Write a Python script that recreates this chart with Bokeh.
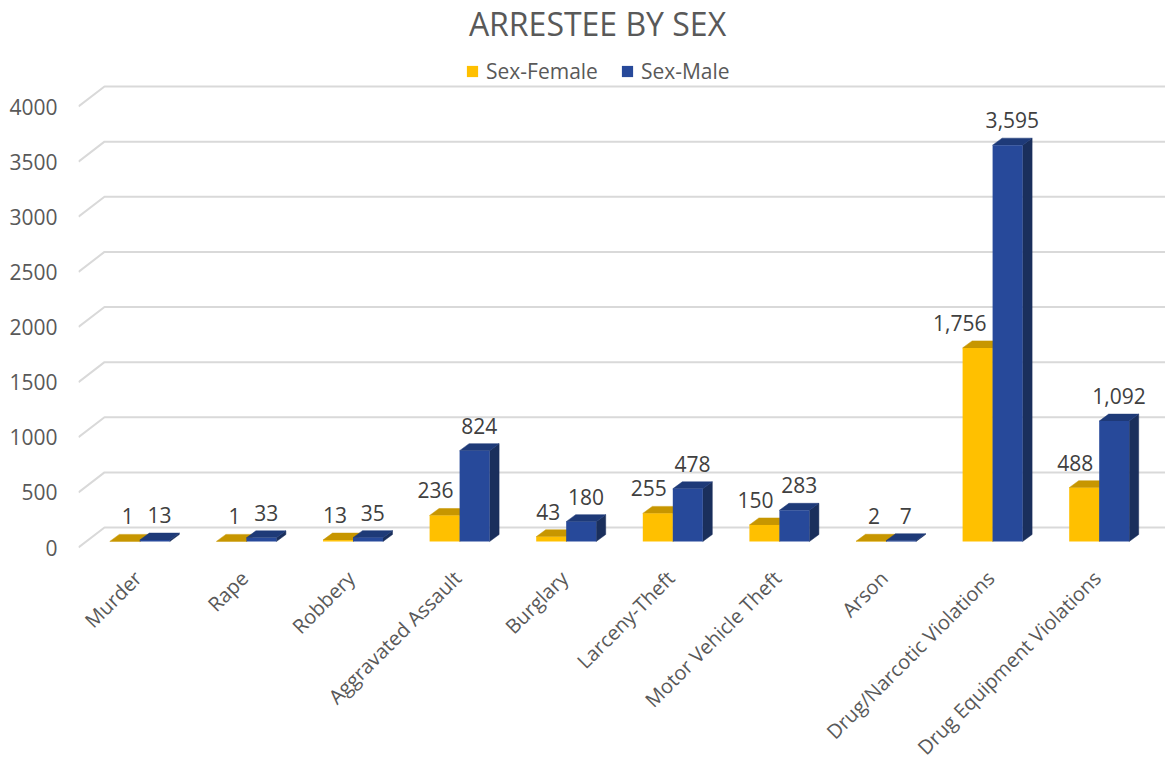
import math
import numpy as np
from bokeh.plotting import figure
from bokeh.models import ColumnDataSource, FixedTicker, Label, Legend, LegendItem, Range1d
from bokeh.core.properties import value
from bokeh.embed import file_html
from bokeh.resources import INLINE

# ---------------- data ----------------
categories = ["Murder", "Rape", "Robbery", "Aggravated Assault", "Burglary",
              "Larceny-Theft", "Motor Vehicle Theft", "Arson",
              "Drug/Narcotic Violations", "Drug Equipment Violations"]
female = [1, 1, 13, 236, 43, 255, 150, 2, 1756, 488]
male = [13, 33, 35, 824, 180, 478, 283, 7, 3595, 1092]
series_names = ["Sex-Female", "Sex-Male"]
y_ticks = [0, 500, 1000, 1500, 2000, 2500, 3000, 3500, 4000]
title_text = "ARRESTEE BY SEX"

# ---------------- layout / style ----------------
FONT = "Open Sans"
W, H = 1165, 763
LEFT = 78
PX_X = 106.6            # pixels per category
K = 441.0 / 4000.0      # pixels per unit value
ZERO_Y = 547.0          # figure px of value 0 on the front plane
x_start = -0.5
x_end = x_start + (W - LEFT) / PX_X
y_end = ZERO_Y / K
y_start = -(H - ZERO_Y) / K


def dx(px):
    return px / PX_X


def dy(px):
    return px / K


BX, BY = dx(8), dy(6)        # bar plane offset from the axis plane
BW = dx(30)                  # bar width
DX, DY = dx(9.5), dy(7)      # bar depth
WX, WY = dx(26), dy(20)      # back wall offset

YEL, YEL_TOP = "#FFC000", "#C79600"
BLU, BLU_TOP, BLU_SIDE = "#27499A", "#1E3A78", "#1A2F5C"
GRID = "#D9D9D9"
TXT = "#595959"
LBL = "#404040"

p = figure(width=W, height=H, output_backend="svg", toolbar_location=None,
           x_range=Range1d(x_start, x_end), y_range=Range1d(y_start, y_end),
           x_axis_location=None, y_axis_location="left", title=None,
           min_border_left=LEFT, min_border_right=0, min_border_top=0,
           min_border_bottom=0)
p.outline_line_color = None
p.xgrid.visible = False
p.ygrid.visible = False

# y axis (front plane)
ax = p.yaxis[0]
ax.ticker = FixedTicker(ticks=y_ticks)
ax.axis_line_color = None
ax.major_tick_line_color = None
ax.minor_tick_line_color = None
ax.major_tick_out = 0
ax.major_tick_in = 0
ax.major_label_standoff = 21
ax.major_label_text_font = FONT
ax.major_label_text_font_size = "21px"
ax.major_label_text_color = TXT

# 3D gridlines: diagonal on side wall, then along back wall
gxs = [[x_start, x_start + WX, x_end] for t in y_ticks]
gys = [[t, t + WY, t + WY] for t in y_ticks]
p.multi_line(xs=gxs, ys=gys, line_color=GRID, line_width=2)

idx = np.arange(len(categories), dtype=float)


def draw_series(vals, left, color, top_color, side_color):
    vals = np.asarray(vals, dtype=float)
    right = left + BW
    src = ColumnDataSource(dict(left=left, right=right,
                                bottom=np.full(len(vals), BY), top=BY + vals))
    # side faces
    sx = [[r, r, r + DX, r + DX] for r in right]
    sy = [[BY, BY + v, BY + v + DY, BY + DY] for v in vals]
    p.patches(xs=sx, ys=sy, fill_color=side_color, line_color=side_color, line_width=0.5)
    # top faces
    tx = [[l, r, r + DX, l + DX] for l, r in zip(left, right)]
    ty = [[BY + v, BY + v, BY + v + DY, BY + v + DY] for v in vals]
    p.patches(xs=tx, ys=ty, fill_color=top_color, line_color=top_color, line_width=0.5)
    # front faces
    return p.quad(left="left", right="right", bottom="bottom", top="top", source=src,
                  fill_color=color, line_color=None)


f_left = idx + BX - BW
m_left = idx + BX
r_f = draw_series(female, f_left, YEL, YEL_TOP, YEL_TOP)
r_m = draw_series(male, m_left, BLU, BLU_TOP, BLU_SIDE)


# data labels
def fmt(v):
    return "{:,}".format(v)


def est_w(s):
    return sum(5.7 if c == "," else 12.0 for c in s)


f_txt = [fmt(v) for v in female]
m_txt = [fmt(v) for v in male]
f_off = []
for fv, mv, s in zip(female, male, f_txt):
    room = (BW / 2 - DX / 2) * PX_X - 6 - est_w(s) / 2
    f_off.append(min(0.0, room) if mv > fv else 0.0)

lab_src = ColumnDataSource(dict(
    x=list(f_left + BW / 2 + DX / 2) + list(m_left + BW / 2 + DX / 2),
    y=[BY + v + DY for v in female] + [BY + v + DY for v in male],
    text=f_txt + m_txt,
    xo=f_off + [0.0] * len(male),
))
p.text(x="x", y="y", text="text", x_offset="xo", y_offset=-18, source=lab_src,
       text_align="center", text_baseline="alphabetic",
       text_font=value(FONT), text_font_size="21px", text_color=LBL)

# category labels
cat_src = ColumnDataSource(dict(x=idx, y=np.zeros(len(idx)), text=categories))
p.text(x="x", y="y", text="text", source=cat_src, angle=math.pi / 4,
       x_offset=6, y_offset=27, text_align="right", text_baseline="middle",
       text_font=value(FONT), text_font_size="20px", text_color=TXT)

# title
p.add_layout(Label(x=x_start + (597 - LEFT) / PX_X, y=(ZERO_Y - 23) / K,
                   text=title_text, text_align="center", text_baseline="alphabetic",
                   text_font=FONT, text_font_size="32px", text_color=TXT))

# legend
legend = Legend(items=[LegendItem(label=series_names[0], renderers=[r_f]),
                       LegendItem(label=series_names[1], renderers=[r_m])],
                orientation="horizontal", location=(387, 678),
                glyph_width=14, glyph_height=14, label_standoff=7, spacing=22,
                padding=0, margin=0, border_line_color=None,
                background_fill_alpha=0,
                label_text_font=FONT, label_text_font_size="21px",
                label_text_color=TXT)
p.add_layout(legend, "center")

open("out.html", "w").write(file_html(p, INLINE))
